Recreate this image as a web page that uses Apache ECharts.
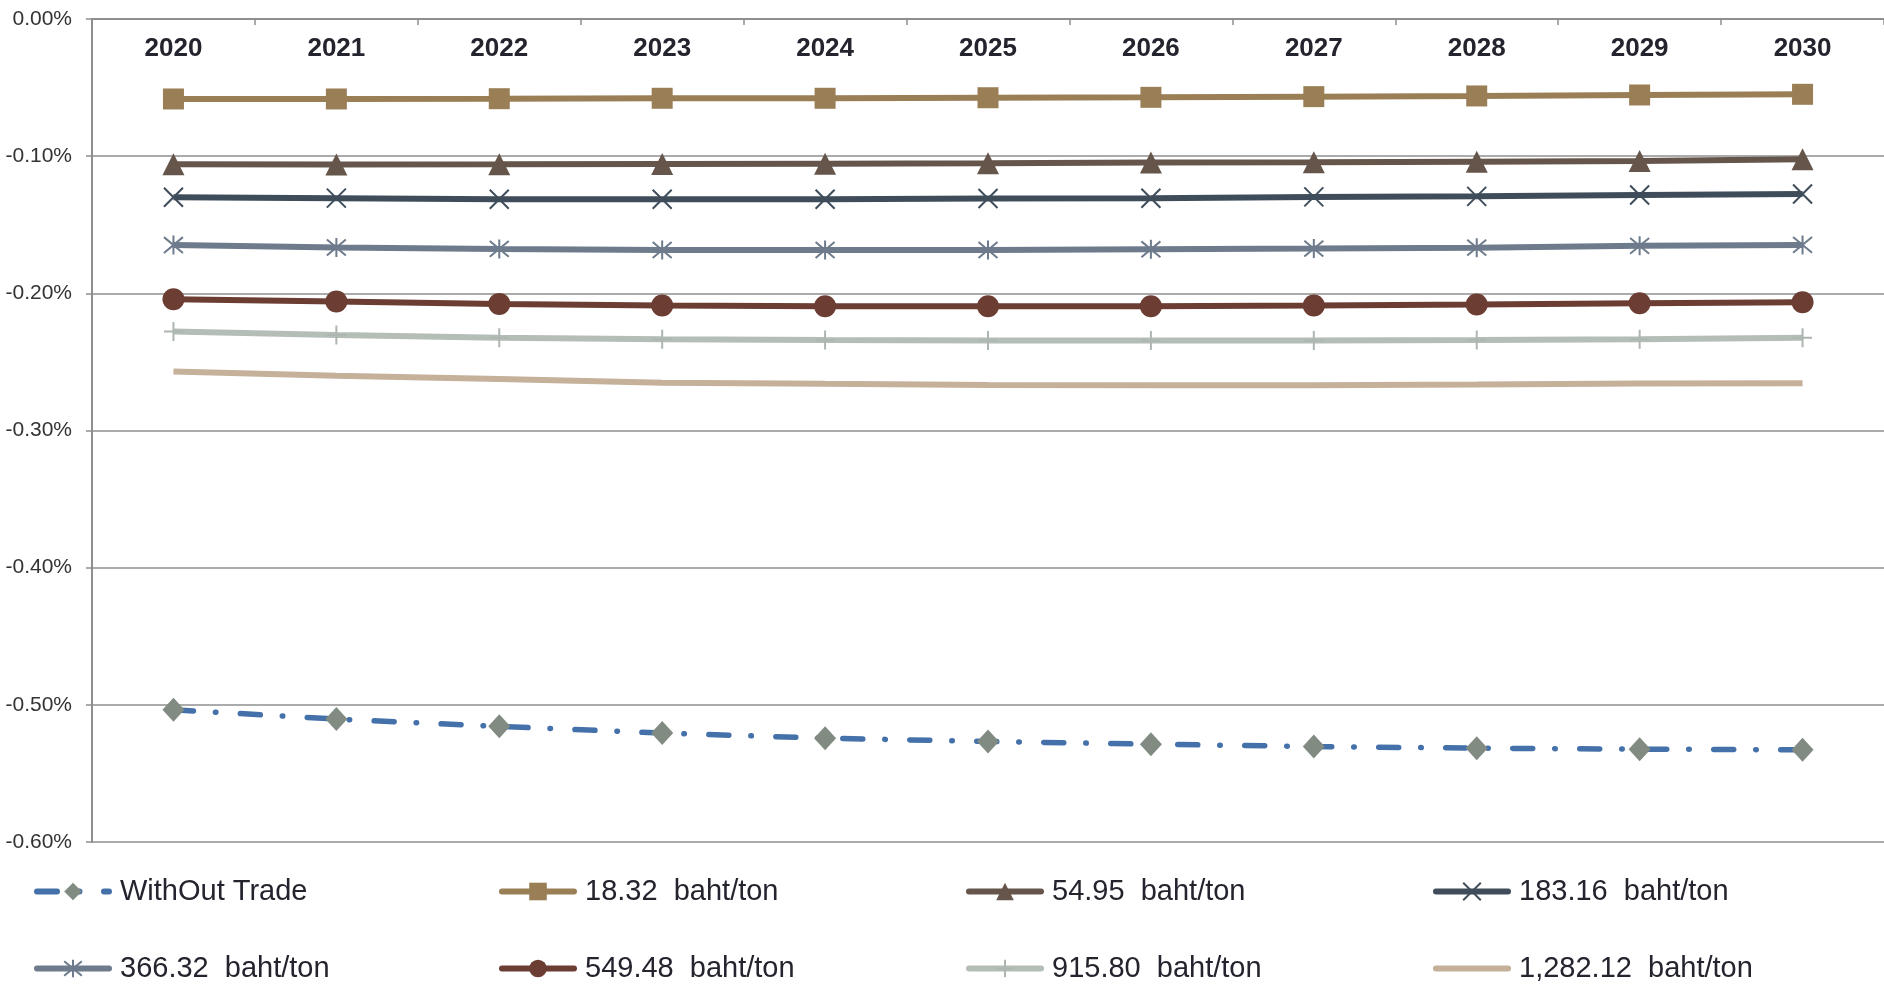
<!DOCTYPE html>
<html>
<head>
<meta charset="utf-8">
<title>Carbon price scenarios 2020-2030</title>
<script src="https://cdn.jsdelivr.net/npm/echarts@6/dist/echarts.min.js"></script>
<style>
  html, body { margin: 0; padding: 0; background: #ffffff; }
  #chart { width: 1884px; height: 987px; }
</style>
</head>
<body>
<div id="chart"></div>
<script>
// Years along the top axis
const years = ['2020', '2021', '2022', '2023', '2024', '2025', '2026', '2027', '2028', '2029', '2030'];

// Change in percent per scenario
const withoutTrade = [-0.5036, -0.5104, -0.5157, -0.5206, -0.5243, -0.5267, -0.5287, -0.5304, -0.5316, -0.5323, -0.5328];
const price1832    = [-0.0583, -0.0583, -0.0581, -0.0578, -0.0578, -0.0574, -0.0571, -0.0566, -0.0561, -0.0554, -0.0549];
const price5495    = [-0.1059, -0.1060, -0.1059, -0.1057, -0.1055, -0.1052, -0.1047, -0.1045, -0.1040, -0.1035, -0.1023];
const price18316   = [-0.1300, -0.1306, -0.1314, -0.1314, -0.1314, -0.1309, -0.1307, -0.1297, -0.1293, -0.1283, -0.1276];
const price36632   = [-0.1648, -0.1666, -0.1676, -0.1684, -0.1684, -0.1684, -0.1679, -0.1674, -0.1667, -0.1654, -0.1647];
const price54948   = [-0.2043, -0.2060, -0.2077, -0.2089, -0.2094, -0.2094, -0.2094, -0.2089, -0.2082, -0.2072, -0.2065];
const price91580   = [-0.2279, -0.2303, -0.2323, -0.2335, -0.2340, -0.2344, -0.2344, -0.2344, -0.2340, -0.2335, -0.2323];
const price128212  = [-0.2570, -0.2600, -0.2624, -0.2651, -0.2660, -0.2668, -0.2670, -0.2670, -0.2665, -0.2658, -0.2655];

// Series names as shown in the legend
const names = [
  'WithOut Trade',
  '18.32  baht/ton',
  '54.95  baht/ton',
  '183.16  baht/ton',
  '366.32  baht/ton',
  '549.48  baht/ton',
  '915.80  baht/ton',
  '1,282.12  baht/ton'
];

// Value axis ticks
const yMin = -0.6, yMax = 0, yStep = 0.1;

// Stroked marker outlines
const crossPath = 'path://M0,0L10,10M10,0L0,10';
const starPath  = 'path://M0,0L10,10M10,0L0,10M5,-1L5,11';
const plusPath  = 'path://M5,0L5,10M0,5L10,5';

const gridColor = '#8f8f8f';
const textDark = '#24242e';
const fontFamily = 'Liberation Sans, Arial, sans-serif';

function lineSeries(name, data, color, symbol, size, extra) {
  return Object.assign({
    name: name,
    type: 'line',
    data: data,
    symbol: symbol,
    symbolSize: size,
    showSymbol: symbol !== 'none',
    lineStyle: { color: color, width: 6 },
    itemStyle: { color: color },
    emphasis: { disabled: true },
    animation: false
  }, extra || {});
}

function strokedMarker(color) {
  return { color: color, borderColor: color, borderWidth: 2 };
}

const series = [
  lineSeries(names[0], withoutTrade, '#4571aa', 'diamond', [22, 24], {
    lineStyle: { color: '#4571aa', width: 5.5, type: [20, 22, 0.5, 24.5], cap: 'round' },
    itemStyle: { color: '#818b81' }
  }),
  lineSeries(names[1], price1832, '#9a7f56', 'rect', 21),
  lineSeries(names[2], price5495, '#65554a', 'triangle', 22),
  lineSeries(names[3], price18316, '#3f4d5b', crossPath, 19, { itemStyle: strokedMarker('#3f4d5b') }),
  lineSeries(names[4], price36632, '#6e7b8c', starPath, 19, { itemStyle: strokedMarker('#6e7b8c') }),
  lineSeries(names[5], price54948, '#6b3d33', 'circle', 22),
  lineSeries(names[6], price91580, '#b5bdb7', plusPath, 19, { itemStyle: strokedMarker('#adb6b0') }),
  lineSeries(names[7], price128212, '#c5b09a', 'none', 0)
];

// Legend: four columns by two rows, one legend box per key
const legendColumns = [34, 499, 966, 1433];
const legendRows = [877, 954];

function legendItem(name) {
  // the last scenario has no marker, so its key is a plain line
  if (name === names[7]) {
    return { name: name, itemStyle: { color: 'rgba(0,0,0,0)', opacity: 0 } };
  }
  return { name: name };
}

function legendBox(name, index) {
  return {
    orient: 'horizontal',
    left: legendColumns[index % 4],
    top: legendRows[Math.floor(index / 4)],
    padding: 0,
    itemWidth: 72,
    itemHeight: 22,
    selectedMode: false,
    data: [legendItem(name)],
    lineStyle: { width: 6, cap: 'round' },
    textStyle: {
      fontFamily: fontFamily,
      fontSize: 29,
      color: textDark,
      padding: [0, 0, 0, 6]
    }
  };
}

const chart = echarts.init(document.getElementById('chart'), null, { renderer: 'canvas' });

chart.setOption({
  backgroundColor: '#ffffff',
  animation: false,
  grid: { left: 92, right: 0, top: 19, bottom: 145, containLabel: false },
  legend: names.map(legendBox),
  xAxis: {
    type: 'category',
    data: years,
    position: 'top',
    boundaryGap: true,
    axisLine: { show: true, lineStyle: { color: gridColor, width: 2 } },
    axisTick: { show: true, inside: true, length: 6, lineStyle: { color: gridColor, width: 1.5 } },
    axisLabel: {
      inside: true,
      margin: 17,
      fontFamily: fontFamily,
      fontWeight: 'bold',
      fontSize: 26,
      color: textDark
    },
    splitLine: { show: false }
  },
  yAxis: {
    type: 'value',
    min: yMin,
    max: yMax,
    interval: yStep,
    axisLine: { show: true, lineStyle: { color: gridColor, width: 2 } },
    axisTick: { show: true, length: 6, lineStyle: { color: gridColor, width: 1.5 } },
    axisLabel: {
      margin: 20,
      fontFamily: fontFamily,
      fontSize: 21,
      color: '#333333',
      formatter: function (v) { return v.toFixed(2) + '%'; }
    },
    splitLine: { show: true, lineStyle: { color: gridColor, width: 1.5 } }
  },
  series: series
});
</script>
</body>
</html>
